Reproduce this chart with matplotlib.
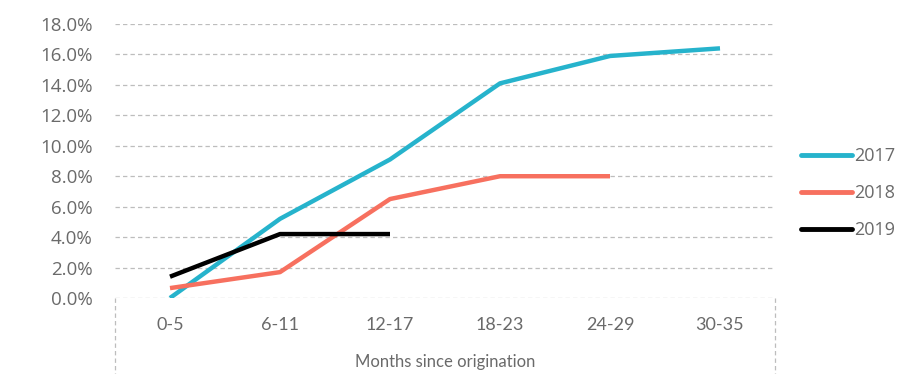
import matplotlib
matplotlib.use("Agg")
import matplotlib.pyplot as plt
import matplotlib.ticker as mticker
import numpy as np

# Cumulative default rate by vintage, % of originated balance
periods = ["0-5", "6-11", "12-17", "18-23", "24-29", "30-35"]
rate_2017 = [0.0, 5.2, 9.1, 14.1, 15.9, 16.4]
rate_2018 = [0.65, 1.7, 6.5, 8.0, 8.0]
rate_2019 = [1.4, 4.2, 4.2]

TEAL = "#26B3CC"
SALMON = "#F7705F"
BLACK = "#000000"
GREY = "#6A6A6A"
GRID = "#BDBDBD"

plt.rcParams["font.family"] = ["Open Sans", "DejaVu Sans"]

fig = plt.figure(figsize=(8.98, 3.74), dpi=100)
ax = fig.add_axes([115 / 898, 1 - 298 / 374, 660 / 898, 274 / 374])

x = np.arange(len(periods))
for vals, color, label in [
    (rate_2017, TEAL, "2017"),
    (rate_2018, SALMON, "2018"),
    (rate_2019, BLACK, "2019"),
]:
    ax.plot(x[:len(vals)], vals, color=color, linewidth=3.2,
            solid_capstyle="butt", label=label, zorder=3)

ax.set_xlim(-0.5, len(periods) - 0.5)
ax.set_ylim(0, 18)
ax.set_yticks(np.arange(0, 18.1, 2))
ax.yaxis.set_major_formatter(mticker.FuncFormatter(lambda v, _: f"{v:.1f}%"))
ax.set_xticks(x)
ax.set_xticklabels(periods, family=["Lato", "DejaVu Sans"], fontsize=13)

ax.grid(axis="y", color=GRID, linestyle=(0, (3.5, 2.5)), linewidth=0.9)
ax.set_axisbelow(True)
for s in ax.spines.values():
    s.set_visible(False)
ax.tick_params(axis="both", length=0, colors=GREY)
ax.tick_params(axis="y", pad=16, labelsize=13.5)
ax.tick_params(axis="x", pad=14)

ax.set_xlabel("Months since origination", color=GREY, fontsize=12,
              family=["Lato", "DejaVu Sans"], labelpad=15)

# dashed box around the category axis
box_kw = dict(color=GRID, linestyle=(0, (3.5, 2.5)), linewidth=0.9,
              transform=ax.transAxes, clip_on=False)
ax.plot([0, 0], [0, -0.35], **box_kw)
ax.plot([1, 1], [0, -0.35], **box_kw)

leg = fig.legend(loc="center left", bbox_to_anchor=(801 / 898, 1 - 193 / 374),
                 frameon=False, handlelength=2.8, handletextpad=0.15,
                 labelspacing=1.05, fontsize=13, borderpad=0,
                 borderaxespad=0)
for t in leg.get_texts():
    t.set_color(GREY)
for h in leg.get_lines():
    h.set_linewidth(3.5)
    h.set_solid_capstyle("round")

fig.savefig("out.png", dpi=100)
